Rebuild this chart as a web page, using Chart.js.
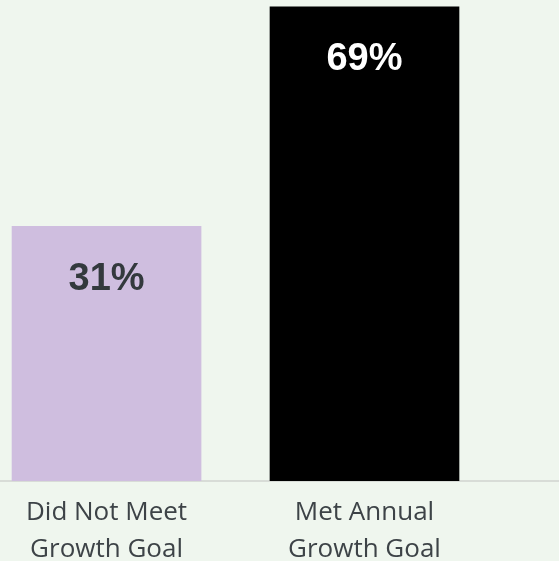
<!DOCTYPE html>
<html>
<head>
<meta charset="utf-8">
<script src="https://cdn.jsdelivr.net/npm/chart.js@4"></script>
<style>
  html, body { margin: 0; padding: 0; background: #eff6ee; }
  #wrap { width: 559px; height: 561px; position: relative; }
</style>
</head>
<body>
<div id="wrap"><canvas id="myChart"></canvas></div>
<script>
const categories = [
  ['Did Not Meet', 'Growth Goal'],
  ['Met Annual', 'Growth Goal']
];
const values = [31, 69];
const barColors = ['#cfbedf', '#000000'];
const valueLabelColors = ['#33393d', '#ffffff'];

document.addEventListener("DOMContentLoaded", function () {
  const ctx = document.getElementById('myChart');

  // draws the percentage inside each bar
  const barValueLabels = {
    id: 'barValueLabels',
    afterDatasetsDraw(chart) {
      const c = chart.ctx;
      const meta = chart.getDatasetMeta(0);
      c.save();
      c.font = 'bold 38px "Liberation Sans", Arial, sans-serif';
      c.textAlign = 'center';
      c.textBaseline = 'middle';
      meta.data.forEach((bar, i) => {
        c.fillStyle = valueLabelColors[i];
        c.fillText(values[i] + '%', bar.x, bar.y + 53);
      });
      c.restore();
    }
  };

  new Chart(ctx, {
    type: 'bar',
    data: {
      datasets: [{
        data: values.map((v, i) => ({ x: i, y: v })),
        backgroundColor: barColors,
        borderWidth: 0,
        barThickness: 189,
        base: -13.07,
        clip: 0
      }]
    },
    options: {
      responsive: true,
      maintainAspectRatio: false,
      animation: false,
      layout: { padding: 0 },
      plugins: {
        legend: { display: false },
        tooltip: { enabled: false }
      },
      scales: {
        x: {
          type: 'linear',
          offset: false,
          min: -0.413,
          max: 1.754,
          grid: { display: false, drawTicks: false, offset: false },
          border: { display: true, color: '#d8dcd7', width: 2 },
          afterBuildTicks: (scale) => {
            scale.ticks = categories.map((_, i) => ({ value: i }));
          },
          afterFit: (scale) => { scale.height = 80; },
          ticks: {
            autoSkip: false,
            maxRotation: 0,
            padding: 13,
            color: '#3d4347',
            font: { family: '"Open Sans", sans-serif', size: 26, lineHeight: 1.42 },
            callback: (value) => categories[value]
          }
        },
        y: {
          display: false,
          min: -13.07,
          max: 70.2
        }
      }
    },
    plugins: [barValueLabels]
  });
});
</script>
</body>
</html>
